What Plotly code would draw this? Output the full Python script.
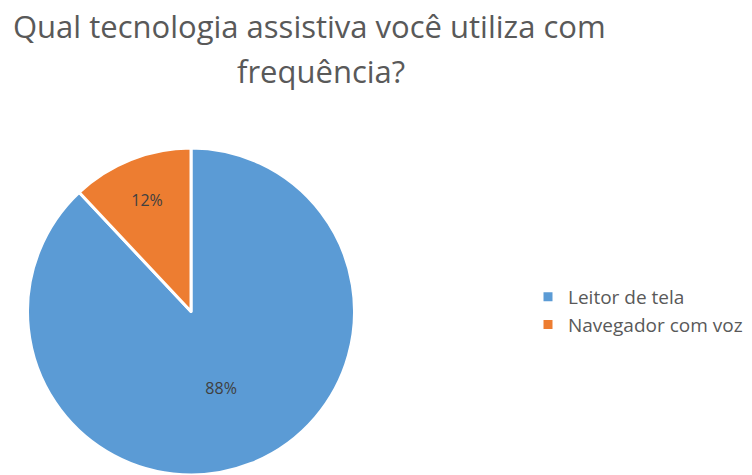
import plotly.graph_objects as go

# Survey answers: most-used assistive technology
categories = ["Leitor de tela", "Navegador com voz"]
shares = [88, 12]
colors = ["#5B9BD5", "#ED7D31"]

title_lines = ["Qual tecnologia assistiva você utiliza com", "frequência?"]

title_font = dict(family="Open Sans, sans-serif", size=31, color="#595959")

fig = go.Figure(
    go.Pie(
        labels=categories,
        values=shares,
        sort=False,
        direction="clockwise",
        rotation=0,
        marker=dict(colors=colors, line=dict(color="white", width=3)),
        texttemplate="%{percent:.0%}",
        textposition="inside",
        insidetextorientation="horizontal",
        textfont=dict(family="Open Sans, sans-serif", size=16, color="#404040"),
        domain=dict(x=[0.0359, 0.4721], y=[0.0, 0.6884]),
        hoverinfo="label+percent",
    )
)

fig.add_annotation(
    text=title_lines[0], x=309 / 752, y=1 - 26 / 475, xref="paper", yref="paper",
    showarrow=False, xanchor="center", yanchor="middle", font=title_font,
)
fig.add_annotation(
    text=title_lines[1], x=321 / 752, y=1 - 71 / 475, xref="paper", yref="paper",
    showarrow=False, xanchor="center", yanchor="middle", font=title_font,
)

fig.update_layout(
    width=752,
    height=475,
    margin=dict(l=0, r=0, t=0, b=0),
    paper_bgcolor="white",
    plot_bgcolor="white",
    showlegend=True,
    legend=dict(
        x=528 / 752, y=1 - 311 / 475, xanchor="left", yanchor="middle",
        font=dict(family="Open Sans, sans-serif", size=19, color="#595959"),
        itemwidth=30,
    ),
)

fig.write_html("out.html")
